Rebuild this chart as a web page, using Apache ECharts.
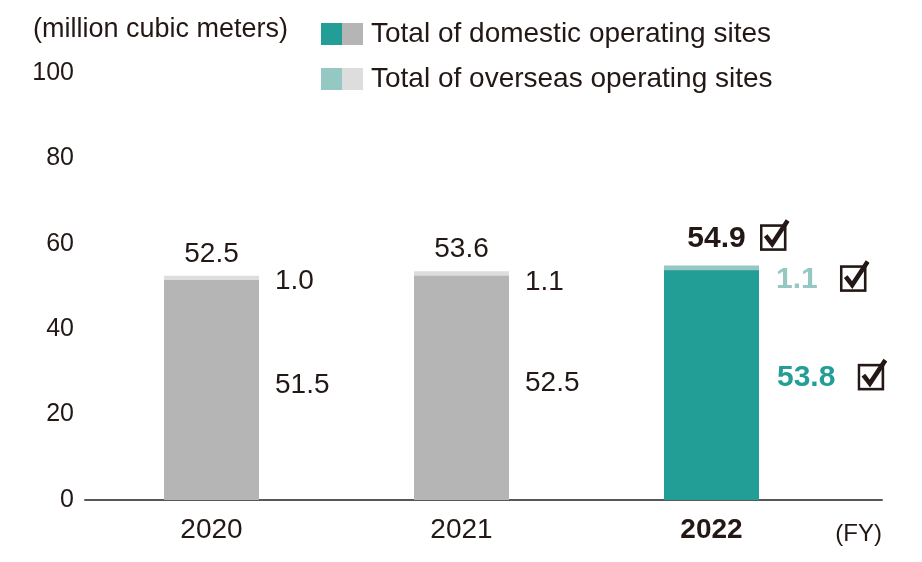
<!DOCTYPE html>
<html><head><meta charset="utf-8">
<script src="https://cdn.jsdelivr.net/npm/echarts@6/dist/echarts.min.js"></script>
<style>html,body{margin:0;padding:0;background:#fff}#c{width:922px;height:562px}</style>
</head><body><div id="c"></div>
<script>
const years = ['2020', '2021', '2022'];
const domestic = [51.5, 52.5, 53.8];
const overseas = [1.0, 1.1, 1.1];
const totals = [52.5, 53.6, 54.9];
const yTicks = [0, 20, 40, 60, 80, 100];

const TXT = '#231815';
const GRAY = '#b4b5b4', GRAY_L = '#dcdddc', TEAL = '#239e96', TEAL_L = '#96c8c3';
const svgUrl = s => 'data:image/svg+xml;charset=utf-8,' + encodeURIComponent(s);
const chk = svgUrl('<svg xmlns="http://www.w3.org/2000/svg" width="30" height="40" viewBox="0 0 30 40"><rect x="1.5" y="7" width="24" height="24" fill="none" stroke="#231815" stroke-width="2.6"/><path d="M6 17 L12.5 25.5 L28 2" fill="none" stroke="#231815" stroke-width="4.6"/></svg>');
const legDom = svgUrl('<svg xmlns="http://www.w3.org/2000/svg" width="42" height="22"><rect x="0" y="0" width="21" height="22" fill="' + TEAL + '"/><rect x="21" y="0" width="21" height="22" fill="' + GRAY + '"/></svg>');
const legOv = svgUrl('<svg xmlns="http://www.w3.org/2000/svg" width="42" height="22"><rect x="0" y="0" width="21" height="22" fill="' + TEAL_L + '"/><rect x="21" y="0" width="21" height="22" fill="' + GRAY_L + '"/></svg>');
const chkRich = { width: 30, height: 40, verticalAlign: 'middle', backgroundColor: { image: chk } };
const last = years.length - 1;
const ovLabelDy = i => (i === last ? 14 : i === 1 ? 11 : 5);

const chart = echarts.init(document.getElementById('c'), null, { renderer: 'canvas' });
const nameDom = 'Total of domestic operating sites';
const nameOv = 'Total of overseas operating sites';
const richLabel = (color, gap) => ({
  v: { fontSize: 30, fontWeight: 'bold', color: color, lineHeight: 40, verticalAlign: 'middle' },
  s: { width: gap }, c: chkRich
});

chart.setOption({
  animation: false,
  textStyle: { fontFamily: 'Liberation Sans, Arial, sans-serif' },
  title: [
    { text: '(million cubic meters)', left: 28, top: 11, textStyle: { fontSize: 27, fontWeight: 'normal', color: TXT } },
    { text: '(FY)', right: 35, top: 517, textStyle: { fontSize: 24, fontWeight: 'normal', color: TXT } }
  ],
  legend: {
    orient: 'vertical', left: 316, top: 15, itemGap: 17, itemWidth: 42, itemHeight: 22,
    textStyle: { fontSize: 28, color: TXT, padding: [0, 0, 0, 3] },
    data: [{ name: nameDom, icon: 'image://' + legDom }, { name: nameOv, icon: 'image://' + legOv }]
  },
  grid: { left: 85, right: 40, top: 73, bottom: 62 },
  xAxis: {
    type: 'value', min: -0.506, max: 2.682,
    axisLine: { show: true, onZero: false, lineStyle: { color: '#595757', width: 2 } },
    axisTick: { show: false }, splitLine: { show: false },
    axisLabel: {
      customValues: years.map((y, i) => i), margin: 16, color: TXT, fontSize: 28,
      formatter: v => v === last ? '{b|' + years[v] + '}' : years[v],
      rich: { b: { fontSize: 28, fontWeight: 'bold', color: TXT } }
    }
  },
  yAxis: {
    type: 'value', min: 0, max: 100, interval: 20,
    axisLine: { show: false }, axisTick: { show: false }, splitLine: { show: false },
    axisLabel: { color: TXT, fontSize: 25, margin: 11 }
  },
  series: [
    {
      // overseas segment: drawn from 0 to the total, domestic bar overlays the lower part
      name: nameOv, type: 'bar', barWidth: 95, barGap: '-100%', itemStyle: { color: GRAY_L },
      data: totals.map((t, i) => ({
        value: [i, t],
        itemStyle: { color: i === last ? TEAL_L : GRAY_L },
        label: i === last ? {
          show: true, position: ['100%', '0%'], align: 'left', verticalAlign: 'middle', offset: [17, ovLabelDy(i)],
          formatter: () => '{v|' + overseas[i].toFixed(1) + '}{s|}{c|}',
          rich: richLabel(TEAL_L, 22)
        } : {
          show: true, position: ['100%', '0%'], align: 'left', verticalAlign: 'middle', offset: [16, ovLabelDy(i)],
          color: TXT, fontSize: 28,
          formatter: () => overseas[i].toFixed(1)
        }
      }))
    },
    {
      name: nameDom, type: 'bar', barWidth: 95, barGap: '-100%', itemStyle: { color: GRAY },
      data: domestic.map((v, i) => ({
        value: [i, v],
        itemStyle: { color: i === last ? TEAL : GRAY },
        label: i === last ? {
          show: true, position: 'right', distance: 18, offset: [0, -7],
          formatter: p => '{v|' + p.value[1].toFixed(1) + '}{s|}{c|}',
          rich: richLabel(TEAL, 22)
        } : {
          show: true, position: 'right', distance: 16, offset: [0, -5], color: TXT, fontSize: 28,
          formatter: p => p.value[1].toFixed(1)
        }
      }))
    },
    {
      name: 'total', type: 'scatter', symbolSize: 0, silent: true,
      itemStyle: { opacity: 1, color: 'rgba(0,0,0,0)' },
      data: totals.map((v, i) => ({
        value: [i, v],
        label: i === last ? {
          show: true, position: 'top', distance: 7, offset: [27, 0],
          formatter: p => '{v|' + p.value[1].toFixed(1) + '}{s|}{c|}',
          rich: richLabel(TXT, 14)
        } : {
          show: true, position: 'top', distance: 8, color: TXT, fontSize: 28,
          formatter: p => p.value[1].toFixed(1)
        }
      }))
    }
  ]
});
</script></body></html>
